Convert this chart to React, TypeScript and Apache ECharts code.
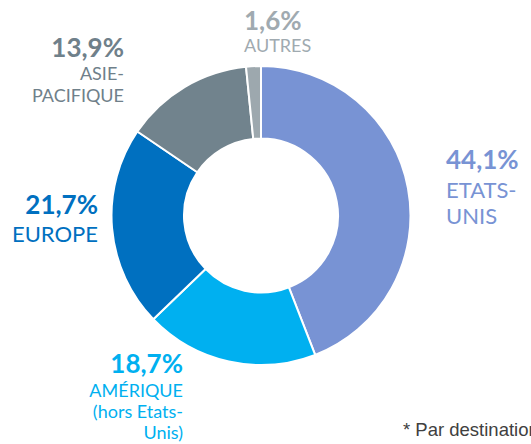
import React, { useEffect, useRef } from "react";
import * as echarts from "echarts";

const categories = ["ETATS-\nUNIS", "AMÉRIQUE\n(hors Etats-\nUnis)", "EUROPE", "ASIE-\nPACIFIQUE", "AUTRES"];
const values = [44.1, 18.7, 21.7, 13.9, 1.6];
const sliceColors = ["#7893D4", "#00B0F0", "#0070C0", "#71838D", "#9DA8AE"];
const textColors = ["#7893D4", "#00B0F0", "#0070C0", "#6F808A", "#A0AAB0"];
const footnote = "* Par destination";

// layout for each label: x, y (top), alignment, name font size, name line height, gap
const labelPos = [
  { x: 446, y: 142, align: "left", fs: 22, lh: 26, pl: 34 },
  { x: 183, y: 346, align: "right", fs: 18, lh: 21, pl: 33 },
  { x: 98, y: 188, align: "right", fs: 22, lh: 26, pl: 32 },
  { x: 124, y: 31, align: "right", fs: 18, lh: 22, pl: 31 },
  { x: 244, y: 6, align: "left", fs: 18, lh: 22, pl: 28 },
];

const FONT = "Lato, 'Open Sans', sans-serif";

export default function App() {
  const ref = useRef<HTMLDivElement>(null);
  useEffect(() => {
    const chart = echarts.init(ref.current!, null, { renderer: "svg" });
    const data = categories.map((name, i) => {
      const lp = labelPos[i];
      return {
        name,
        value: values[i],
        itemStyle: { color: sliceColors[i] },
        label: {
          align: lp.align,
          rich: {
            p: {
              fontFamily: FONT,
              fontWeight: "bold",
              fontSize: 26,
              lineHeight: lp.pl,
              color: textColors[i],
              align: lp.align,
            },
            n: {
              fontFamily: FONT,
              fontSize: lp.fs,
              lineHeight: lp.lh,
              color: textColors[i],
              align: lp.align,
            },
          },
        },
      };
    });
    chart.setOption({
      animation: false,
      series: [
        {
          type: "pie",
          center: [261, 215.5],
          radius: [77, 149.5],
          startAngle: 90,
          clockwise: true,
          avoidLabelOverlap: false,
          itemStyle: { borderColor: "#ffffff", borderWidth: 2 },
          label: {
            show: true,
            position: "outside",
            formatter: (p: any) => {
              const pct = p.value.toFixed(1).replace(".", ",") + "%";
              const lines = String(p.name).split("\n").map((l) => `{n|${l}}`).join("\n");
              return `{p|${pct}}\n${lines}`;
            },
          },
          labelLine: { show: false },
          labelLayout: (params: any) => {
            const lp = labelPos[params.dataIndex];
            return { x: lp.x, y: lp.y, align: lp.align, verticalAlign: "top" };
          },
          data,
        },
      ],
      graphic: [
        {
          type: "text",
          left: 403,
          top: 420,
          style: {
            text: footnote,
            fontFamily: "'Liberation Sans', Arial, sans-serif",
            fontSize: 18.5,
            fill: "#404040",
          },
        },
      ],
    });
    return () => chart.dispose();
  }, []);
  return <div ref={ref} style={{ width: 531, height: 444, position: "absolute", left: 0, top: 0 }} />;
}
